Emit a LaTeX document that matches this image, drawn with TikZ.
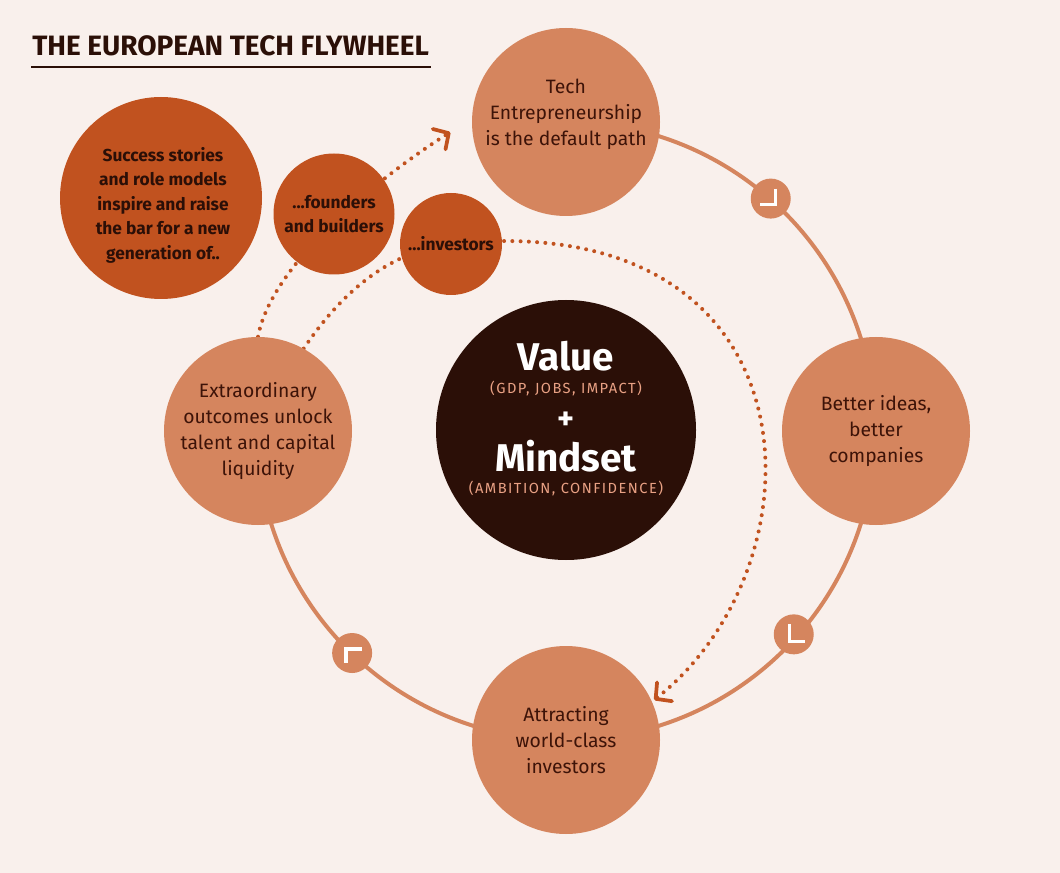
\documentclass[tikz,border=0pt]{standalone}
\usepackage{fontspec}
\setmainfont{Fira Sans}
\usetikzlibrary{arrows.meta,calc}

\definecolor{paperc}{HTML}{F9F0EC}
\definecolor{ringc}{HTML}{D5855E}
\definecolor{rustc}{HTML}{C1521F}
\definecolor{corec}{HTML}{2B0F07}
\definecolor{inkc}{HTML}{3D1308}
\definecolor{salmonc}{HTML}{E9A184}

\pgfdeclarelayer{paper}
\pgfdeclarelayer{under}
\pgfsetlayers{paper,under,main}

\begin{document}
\begin{tikzpicture}[x=0.75pt,y=0.75pt,yscale=-1,xscale=1,
  stage/.style={circle,fill=ringc,inner sep=0pt,minimum size=141pt,align=center,text=inkc,
    font=\fontsize{14.5}{19.5}\selectfont},
  stagetext/.style={inner sep=0pt,align=center,text=inkc,font=\fontsize{14.5}{19.5}\selectfont},
  spark/.style={circle,fill=rustc,inner sep=0pt,align=center,text=corec,
    font=\bfseries\fontsize{13}{18.4}\selectfont},
  sparktext/.style={inner sep=0pt,align=center,text=corec,font=\bfseries\fontsize{13}{18.4}\selectfont},
  turn/.style={circle,fill=ringc,inner sep=0pt,minimum size=30pt},
  chev/.style={draw=white,line width=2.6pt,miter limit=4},
  ring/.style={draw=ringc,line width=3pt},
  dots/.style={draw=rustc,line width=3pt,line cap=round,dash pattern=on 0pt off 6.2pt,
    -{Straight Barb[length=8.5pt,width=18pt,line width=2.8pt,round]},shorten >=2pt},
  bigw/.style={text=white,font=\bfseries\fontsize{29}{32}\selectfont,inner sep=0pt},
  smallw/.style={text=salmonc,font=\fontsize{11}{12}\selectfont\addfontfeature{LetterSpace=10},inner sep=0pt}]

\begin{pgfonlayer}{paper}
\fill[paperc] (0,0) rectangle (1060,873);
\end{pgfonlayer}

% Title
\node[anchor=west,text=corec,font=\bfseries\fontsize{21}{24}\selectfont,inner sep=0pt] (title) at (32,46) {THE EUROPEAN TECH FLYWHEEL};
\draw[corec,line width=1.2pt] (31,67) -- (431,67);

% Centre
\node[circle,fill=corec,minimum size=195pt,inner sep=0pt] (core) at (566,430) {};
\node[bigw] (value) at (566,356) {Value};
\node[smallw] (gdp) at (566,389) {(GDP, JOBS, IMPACT)};
\node[bigw,font=\bfseries\fontsize{24}{26}\selectfont] (plus) at (566,421) {+};
\node[bigw] (mindset) at (566,456) {Mindset};
\node[smallw] (ambition) at (566,489) {(AMBITION, CONFIDENCE)};

% Flywheel stages
\node[stage] (tech) at (566,122) {};
\node[stagetext] (techtxt) at (566,114) {Tech\\Entrepreneurship\\is the default path};
\node[stage] (better) at (876,431) {Better ideas,\\better\\companies};
\node[stage] (attract) at (566,740) {Attracting\\world-class\\investors};
\node[stage] (extra) at (258,431) {Extraordinary\\outcomes unlock\\talent and capital\\liquidity};

% Success stories
\node[spark,minimum size=151.5pt] (success) at (161,198) {};
\node[sparktext] (successtxt) at (163,205) {Success stories\\and role models\\inspire and raise\\the bar for a new\\generation of..};
\node[spark,minimum size=90.75pt,font=\bfseries\fontsize{13}{18}\selectfont] (founders) at (334,214) {...founders\\and builders};
\node[spark,minimum size=76.5pt] (investors) at (451,244) {...investors};

% Direction marks
\node[turn] (t1) at ($(core)+(-48.5:309)$) {};
\node[turn] (t2) at ($(core)+(41.9:306)$) {};
\node[turn] (t3) at ($(core)+(133.8:309)$) {};
\draw[chev] ($(t1)+(5,-10)$) -- ($(t1)+(5,6)$) -- ($(t1)+(-11,6)$);
\draw[chev] ($(t2)+(-4,-10)$) -- ($(t2)+(-4,7)$) -- ($(t2)+(11,7)$);
\draw[chev] ($(t3)+(-6,10)$) -- ($(t3)+(-6,-4)$) -- ($(t3)+(10,-4)$);

\begin{pgfonlayer}{under}
\draw[ring] (tech.center) arc[start angle=-90,end angle=180,radius=309];
\draw[dots,shorten >=19pt] (extra.north) .. controls (272,260) and (390,170) .. (tech.178);
\draw[dots] (extra.61) .. controls (350,280) and (400,250) .. (investors.center)
  .. controls (820,205) and (830,560) .. (attract.24);
\end{pgfonlayer}

\end{tikzpicture}
\end{document}
